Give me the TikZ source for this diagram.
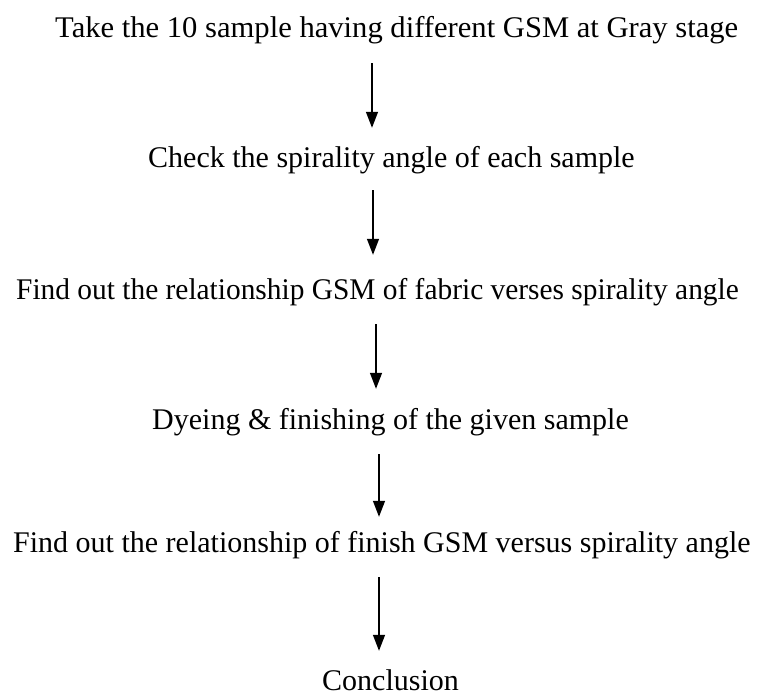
\documentclass[tikz,border=0pt]{standalone}
\usepackage{fontspec}
\setmainfont{Liberation Serif}
\usetikzlibrary{arrows.meta}
\begin{document}
\begin{tikzpicture}[x=1pt,y=-1pt,
  txt/.style={inner sep=0pt,font=\fontsize{30}{36}\selectfont,text height=22pt,text depth=7pt},
  arr/.style={line width=1.3pt,-{Triangle[width=12pt,length=16pt]}}]
\useasboundingbox (0,0) rectangle (766,696);
\node[txt,anchor=base west] (t1) at (55,37) {\scalebox{1.02}[1]{Take the 10 sample having different GSM at Gray stage}};
\node[txt,anchor=base west] (t2) at (148,167) {Check the spirality angle of each sample};
\node[txt,anchor=base west] (t3) at (16,299) {\scalebox{0.98}[1]{Find out the relationship GSM of fabric verses spirality angle}};
\node[txt,anchor=base west] (t4) at (152,429) {Dyeing \& finishing of the given sample};
\node[txt,anchor=base west] (t5) at (13,552) {Find out the relationship of finish GSM versus spirality angle};
\node[txt,anchor=base west] (t6) at (322,690) {Conclusion};
\coordinate (c1) at (372,0);
\coordinate (c2) at (373,0);
\coordinate (c3) at (376,0);
\coordinate (c4) at (379,0);
\coordinate (c5) at (379,0);
\draw[arr,shorten <=19pt,shorten >=17pt] (t1.south -| c1) -- (t2.north -| c1);
\draw[arr,shorten <=16pt,shorten >=22pt] (t2.south -| c2) -- (t3.north -| c2);
\draw[arr,shorten <=18pt,shorten >=18pt] (t3.south -| c3) -- (t4.north -| c3);
\draw[arr,shorten <=18pt,shorten >=13pt] (t4.south -| c4) -- (t5.north -| c4);
\draw[arr,shorten <=18pt,shorten >=17pt] (t5.south -| c5) -- (t6.north -| c5);
\end{tikzpicture}
\end{document}
